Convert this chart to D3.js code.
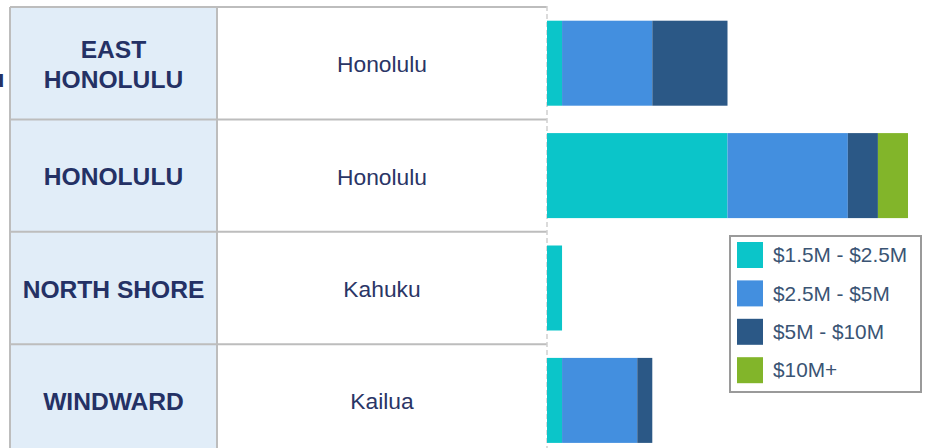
<!DOCTYPE html>
<html lang="en">
<head>
   <meta charset="UTF-8">
   <title>Luxury Sales by Region</title>
   <style>
      body { margin: 0; background: #fff; }
      svg { display: block; font-family: "Liberation Sans", Arial, sans-serif; }
      .region { font-weight: bold; font-size: 24.6px; fill: #243165; text-anchor: middle; }
      .city { font-size: 22.8px; fill: #2a3566; text-anchor: middle; }
      #legend text { font-size: 20.8px; fill: #3a5474; }
   </style>
   <script src="https://cdn.jsdelivr.net/npm/d3@7"></script>
</head>
<body>
   <svg id="chart" width="928" height="448"></svg>
   <script>
      // data
      const regions = ['EAST HONOLULU', 'HONOLULU', 'NORTH SHORE', 'WINDWARD']
      const regionLines = [['EAST', 'HONOLULU'], ['HONOLULU'], ['NORTH SHORE'], ['WINDWARD']]
      const cities = ['Honolulu', 'Honolulu', 'Kahuku', 'Kailua']
      const tiers = ['$1.5M - $2.5M', '$2.5M - $5M', '$5M - $10M', '$10M+']
      const tier1 = [1, 12, 1, 1]
      const tier2 = [6, 8, 0, 5]
      const tier3 = [5, 2, 0, 1]
      const tier4 = [0, 2, 0, 0]
      const colors = ['#0bc5c9', '#438fdf', '#2b5886', '#82b52a']

      const svg = d3.select('#chart')

      // layout
      const TABLE_LEFT = 10
      const COL_SPLIT = 217
      const TABLE_RIGHT = 547
      const TOP = 7
      const ROW_H = 112.4

      const yScale = d3.scaleBand()
         .domain(regions)
         .range([TOP, TOP + ROW_H * regions.length])

      const xScale = d3.scaleLinear()
         .domain([0, 24])
         .range([TABLE_RIGHT, 908])

      const colorScale = d3.scaleOrdinal().domain(tiers).range(colors)

      // table cells
      const rows = svg.append('g').attr('id', 'table')
         .selectAll('g')
         .data(regions)
         .join('g')
         .attr('transform', d => `translate(0, ${yScale(d)})`)

      rows.append('rect')
         .attr('x', TABLE_LEFT)
         .attr('width', COL_SPLIT - TABLE_LEFT)
         .attr('height', yScale.bandwidth())
         .attr('fill', '#e1edf8')

      // grid lines
      const grid = svg.append('g').attr('stroke', '#bdbdbd').attr('stroke-width', 2)
      grid.selectAll('line.h')
         .data(regions)
         .join('line')
         .attr('class', 'h')
         .attr('x1', TABLE_LEFT)
         .attr('x2', TABLE_RIGHT)
         .attr('y1', d => yScale(d))
         .attr('y2', d => yScale(d))
      grid.selectAll('line.v')
         .data([TABLE_LEFT, COL_SPLIT])
         .join('line')
         .attr('class', 'v')
         .attr('x1', d => d)
         .attr('x2', d => d)
         .attr('y1', TOP)
         .attr('y2', 448)

      svg.append('line')
         .attr('x1', TABLE_RIGHT).attr('x2', TABLE_RIGHT)
         .attr('y1', TOP - 1).attr('y2', 448)
         .attr('stroke', '#cfcfcf')
         .attr('stroke-width', 1.5)
         .attr('stroke-dasharray', '5,3')

      // labels
      rows.append('text')
         .attr('class', 'region')
         .attr('x', (TABLE_LEFT + COL_SPLIT) / 2)
         .attr('y', yScale.bandwidth() / 2 + 1)
         .selectAll('tspan')
         .data((d, i) => regionLines[i].map((t, j, arr) => ({ t, j, n: arr.length })))
         .join('tspan')
         .attr('x', (TABLE_LEFT + COL_SPLIT) / 2)
         .attr('dy', d => d.j === 0 ? `${0.35 - (d.n - 1) * 0.6}em` : '1.2em')
         .text(d => d.t)

      rows.append('text')
         .attr('class', 'city')
         .attr('x', (COL_SPLIT + TABLE_RIGHT) / 2)
         .attr('y', yScale.bandwidth() / 2 + 1)
         .attr('dy', '0.35em')
         .text((_, i) => cities[i])

      // clipped label at the left edge (cut off in the original too)
      svg.append('text')
         .attr('class', 'region')
         .style('text-anchor', 'end')
         .attr('x', 4.5)
         .attr('y', 87)
         .text('Oahu')

      // stacked bars
      const table = regions.map((r, i) => ({
         region: r,
         [tiers[0]]: tier1[i],
         [tiers[1]]: tier2[i],
         [tiers[2]]: tier3[i],
         [tiers[3]]: tier4[i]
      }))
      const series = d3.stack().keys(tiers)(table)

      const BAR_H = 85
      const barOffset = (yScale.bandwidth() - BAR_H) / 2

      svg.append('g').attr('id', 'bars')
         .selectAll('g')
         .data(series)
         .join('g')
         .attr('fill', d => colorScale(d.key))
         .selectAll('rect')
         .data(d => d)
         .join('rect')
         .attr('x', d => xScale(d[0]))
         .attr('y', d => yScale(d.data.region) + barOffset)
         .attr('width', d => xScale(d[1]) - xScale(d[0]))
         .attr('height', BAR_H)

      // legend
      const legend = svg.append('g')
         .attr('id', 'legend')
         .attr('transform', 'translate(730, 236)')

      legend.append('rect')
         .attr('width', 191)
         .attr('height', 156)
         .attr('fill', '#fff')
         .attr('stroke', '#9a9a9a')
         .attr('stroke-width', 2)

      const items = legend.selectAll('g')
         .data(tiers)
         .join('g')
         .attr('transform', (_, i) => `translate(7, ${6 + i * 38.4})`)

      items.append('rect')
         .attr('width', 26)
         .attr('height', 26)
         .attr('fill', d => colorScale(d))

      items.append('text')
         .attr('x', 36)
         .attr('y', 13)
         .attr('dy', '0.35em')
         .text(d => d)
   </script>
</body>
</html>
